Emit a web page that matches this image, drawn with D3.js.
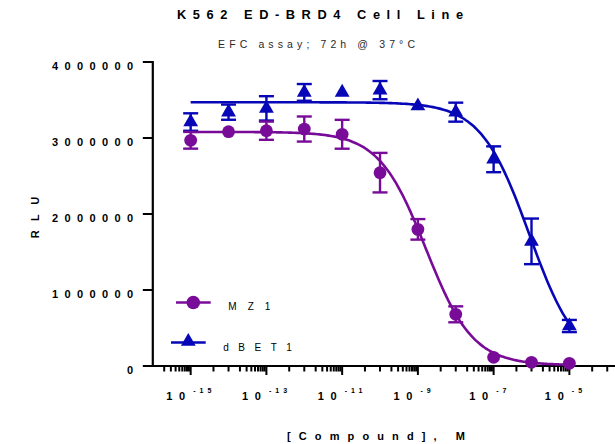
<!DOCTYPE html>
<html><head><meta charset="utf-8">
<script src="https://cdn.jsdelivr.net/npm/d3@7"></script>
<style>html,body{margin:0;padding:0;background:#fff;} svg{display:block;font-family:"Liberation Sans",Arial,sans-serif;}</style>
</head><body>
<svg id="chart" width="615" height="444"></svg>
<script>
// ---------- data ----------
const concentrations = [1e-15, 1e-14, 1e-13, 1e-12, 1e-11, 1e-10, 1e-9, 1e-8, 1e-7, 1e-6, 1e-5];
const mz1Values   = [2970000, 3083000, 3096000, 3118000, 3049000, 2544000, 1798000, 680000, 114000, 49000, 35000];
const mz1Errors   = [110000, 0, 120000, 165000, 190000, 260000, 135000, 105000, 0, 0, 0];
const dbet1Values = [3210000, 3340000, 3390000, 3600000, 3600000, 3630000, 3420000, 3340000, 2720000, 1640000, 526000];
const dbet1Errors = [115000, 100000, 160000, 110000, 0, 120000, 0, 125000, 170000, 300000, 80000];
// four-parameter logistic fits: [top, bottom, logIC50, hillSlope]
const mz1Fit   = [3080000, 10000, -8.79, 0.70];
const dbet1Fit = [3470000, 0, -6.06, 0.68];
const seriesNames = ["MZ1", "dBET1"];
const yTickValues = [0, 1000000, 2000000, 3000000, 4000000];
const yTickLabels = ["0", "1000000", "2000000", "3000000", "4000000"];
const xMajorExponents = [-15, -13, -11, -9, -7, -5];
const titleText = "K562 ED-BRD4 Cell Line";
const subtitleText = "EFC assay; 72h @ 37°C";
const xTitleText = "[Compound], M";
const yTitleText = "RLU";

// ---------- setup ----------
const colors = {MZ1: "#780c98", dBET1: "#0707b8"};
const svg = d3.select("#chart");
const x = d3.scaleLog().domain([1e-16, Math.pow(10, -16 + (615 - 152.8) / 37.87)]).range([152.8, 615]);
const y = d3.scaleLinear().domain([0, 4000000]).range([366, 62]);

function txt(str, px, py, o) {
  const t = svg.append("text").attr("x", px).attr("y", py).text(str)
    .attr("font-size", o.size).attr("font-weight", o.weight || "normal")
    .attr("text-anchor", o.anchor || "middle").attr("fill", o.fill || "#000");
  if (o.len) t.attr("textLength", o.len).attr("lengthAdjust", "spacing");
  if (o.ls) t.style("letter-spacing", o.ls + "px");
  if (o.rotate) t.attr("transform", `rotate(${o.rotate},${px},${py})`);
  return t;
}

// titles
txt(titleText, 320, 18.5, {size: 12.8, weight: "bold", len: 286});
txt(subtitleText, 316.5, 47.5, {size: 10.5, len: 197, fill: "#2a2a2a"});

// ---------- axes ----------
const axisG = svg.append("g").attr("stroke", "#000").attr("fill", "none");
axisG.append("line").attr("x1", x(1e-16)).attr("x2", x(1e-16)).attr("y1", y(4000000) - 1).attr("y2", y(0) + 1).attr("stroke-width", 2.2);
axisG.append("line").attr("x1", x(1e-16) - 3).attr("x2", 615).attr("y1", y(0)).attr("y2", y(0)).attr("stroke-width", 2.2);

// y ticks
yTickValues.forEach((v, i) => {
  axisG.append("line").attr("x1", x(1e-16) - 10).attr("x2", x(1e-16)).attr("y1", y(v)).attr("y2", y(v)).attr("stroke-width", 2);
  const lab = yTickLabels[i];
  txt(lab, 133, y(v) + 8.3, {size: 11, weight: "bold", anchor: "end", len: lab.length > 1 ? 81 : null});
});

// x ticks (log axis)
const xTicks = [];
for (let e = -16; e <= -4; e++) {
  if (e % 2 === 0) {
    for (let k = 1; k <= 9; k++) xTicks.push({v: k * Math.pow(10, e), major: false});
  } else {
    xTicks.push({v: Math.pow(10, e), major: true});
    xTicks.push({v: 4 * Math.pow(10, e), major: false});
  }
}
xTicks.filter(t => x(t.v) > x(1e-16) + 1 && x(t.v) < 614).forEach(t => {
  axisG.append("line").attr("x1", x(t.v)).attr("x2", x(t.v)).attr("y1", y(0)).attr("y2", y(0) + (t.major ? 9 : 5.5)).attr("stroke-width", 2);
});
xMajorExponents.forEach(e => {
  const px = x(Math.pow(10, e));
  txt("10", px - 15, 400, {size: 11, weight: "bold", len: 19});
  txt(String(e), px + 2.5, 393, {size: 7, weight: "bold", anchor: "start", ls: 4});
});

// axis titles
txt(xTitleText, 376, 440, {size: 11, weight: "bold", len: 178});
txt(yTitleText, 39, 217.5, {size: 11, weight: "bold", len: 41.6, rotate: -90});

// ---------- curves ----------
function logistic(p, lx) {
  return p[1] + (p[0] - p[1]) / (1 + Math.pow(10, (lx - p[2]) * p[3]));
}
const logGrid = d3.range(-15, -4.999, 0.05);
const line = d3.line().x(d => x(Math.pow(10, d[0]))).y(d => y(d[1])).curve(d3.curveMonotoneX);
[[mz1Fit, "MZ1"], [dbet1Fit, "dBET1"]].forEach(([p, name]) => {
  svg.append("path").datum(logGrid.map(lx => [lx, logistic(p, lx)]))
    .attr("d", line).attr("fill", "none").attr("stroke", colors[name]).attr("stroke-width", 2.6);
});

// ---------- error bars and markers ----------
const triangle = d3.symbol().type(d3.symbolTriangle).size(95);
function drawSeries(vals, errs, name, marker) {
  const c = colors[name];
  const g = svg.append("g");
  vals.forEach((v, i) => {
    if (!errs[i]) return;
    const px = x(concentrations[i]);
    g.append("line").attr("x1", px).attr("x2", px).attr("y1", y(v + errs[i])).attr("y2", y(v - errs[i])).attr("stroke", c).attr("stroke-width", 2.4);
    [v + errs[i], v - errs[i]].forEach(ev => {
      g.append("line").attr("x1", px - 7.5).attr("x2", px + 7.5).attr("y1", y(ev)).attr("y2", y(ev)).attr("stroke", c).attr("stroke-width", 2.4);
    });
  });
  vals.forEach((v, i) => {
    const px = x(concentrations[i]);
    if (marker === "circle") g.append("circle").attr("cx", px).attr("cy", y(v)).attr("r", 6.4).attr("fill", c);
    else g.append("path").attr("d", triangle()).attr("transform", `translate(${px},${y(v)})`).attr("fill", c);
  });
}
drawSeries(dbet1Values, dbet1Errors, "dBET1", "triangle");
drawSeries(mz1Values, mz1Errors, "MZ1", "circle");

// ---------- legend ----------
const lg = svg.append("g");
lg.append("line").attr("x1", 176).attr("x2", 210.7).attr("y1", 302.5).attr("y2", 302.5).attr("stroke", colors.MZ1).attr("stroke-width", 2.6);
lg.append("circle").attr("cx", 193.3).attr("cy", 302.5).attr("r", 6.8).attr("fill", colors.MZ1);
txt(seriesNames[0], 228.3, 310, {size: 10, anchor: "start", len: 42});
lg.append("line").attr("x1", 171).attr("x2", 205.7).attr("y1", 342.5).attr("y2", 342.5).attr("stroke", colors.dBET1).attr("stroke-width", 2.6);
lg.append("path").attr("d", triangle()).attr("transform", "translate(188.3,341.5)").attr("fill", colors.dBET1);
txt(seriesNames[1], 223.3, 350.5, {size: 10, anchor: "start", len: 68.5});
</script>
</body></html>
